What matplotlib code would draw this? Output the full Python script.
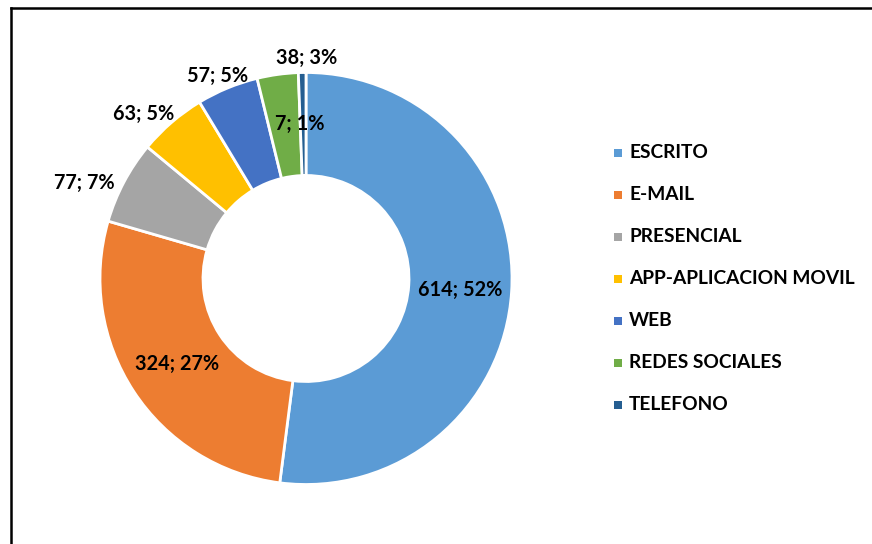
import matplotlib
matplotlib.use("Agg")
import matplotlib.pyplot as plt
from matplotlib.patches import Rectangle
from matplotlib.lines import Line2D

categories = ["ESCRITO", "E-MAIL", "PRESENCIAL", "APP-APLICACION MOVIL", "WEB", "REDES SOCIALES", "TELEFONO"]
values = [614, 324, 77, 63, 57, 38, 7]
labels = ["614; 52%", "324; 27%", "77; 7%", "63; 5%", "57; 5%", "38; 3%", "7; 1%"]
colors = ["#5B9BD5", "#ED7D31", "#A5A5A5", "#FFC000", "#4472C4", "#70AD47", "#255E91"]

W, H = 872, 544
plt.rcParams['font.family'] = ['Lato', 'DejaVu Sans']
fig = plt.figure(figsize=(W / 100, H / 100), dpi=100)
fig.patch.set_facecolor("white")

cx, cy, R = 306, 278.5, 206
ax = fig.add_axes([(cx - R) / W, (H - cy - R) / H, 2 * R / W, 2 * R / H])
ax.pie(values, colors=colors, startangle=90, counterclock=False, radius=1,
       wedgeprops=dict(width=0.5, edgecolor="white", linewidth=2))
ax.set_xlim(-1, 1)
ax.set_ylim(-1, 1)
ax.set_aspect("equal")
ax.axis("off")

# data label positions (pixel layout, matching the reference)
label_pos = [(460, 290), (177, 364), (84, 183), (144, 114), (218, 76), (307, 58), (300, 124)]
for txt, (px, py) in zip(labels, label_pos):
    fig.text(px / W, 1 - py / H, txt, ha="center", va="center", fontsize=14.3,
             fontweight="bold", color="black")

# legend drawn manually
ly0, dy = 153, 42
for i, (cat, col) in enumerate(zip(categories, colors)):
    y = ly0 + i * dy
    fig.add_artist(Rectangle((614 / W, 1 - (y + 4) / H), 8 / W, 8 / H,
                             transform=fig.transFigure, facecolor=col, edgecolor="none"))
    fig.text(629 / W, 1 - y / H, cat, ha="left", va="center", fontsize=13.8,
             fontweight="bold", color="black")

# frame (extends beyond the canvas on right/bottom)
fig.add_artist(Line2D([11 / W, 11 / W], [0, 1 - 8 / H], transform=fig.transFigure, color="black", lw=1.8))
fig.add_artist(Line2D([11 / W, 1], [1 - 8 / H, 1 - 8 / H], transform=fig.transFigure, color="black", lw=1.8))

fig.savefig("out.png", dpi=100)
